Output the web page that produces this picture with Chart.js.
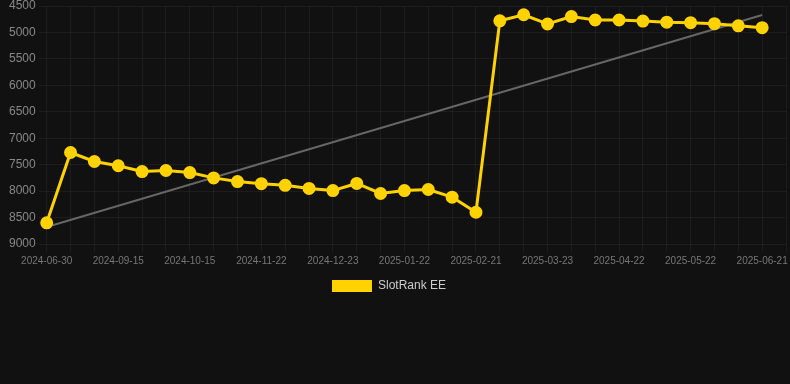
<!DOCTYPE html>
<html>
<head>
<meta charset="utf-8">
<script src="https://cdn.jsdelivr.net/npm/chart.js@4"></script>
<style>
  html, body { margin: 0; padding: 0; background: #111111; }
  #wrap { position: relative; width: 790px; height: 302px; }
</style>
</head>
<body>
<div id="wrap"><canvas id="c"></canvas></div>
<script>
const labels = [
  '2024-06-30','2024-08-26','2024-09-05','2024-09-15','2024-09-25','2024-10-05',
  '2024-10-15','2024-10-28','2024-11-10','2024-11-22','2024-12-02','2024-12-13',
  '2024-12-23','2025-01-02','2025-01-12','2025-01-22','2025-02-01','2025-02-11',
  '2025-02-21','2025-03-03','2025-03-13','2025-03-23','2025-04-02','2025-04-12',
  '2025-04-22','2025-05-02','2025-05-12','2025-05-22','2025-06-01','2025-06-11',
  '2025-06-21','2025-07-01'
];
const rankValues = [
  8600, 7270, 7440, 7520, 7630, 7610,
  7650, 7750, 7820, 7860, 7890, 7950,
  7990, 7855, 8045, 7990, 7970, 8115,
  8400, 4780, 4665, 4840, 4700, 4765,
  4765, 4785, 4805, 4815, 4835, 4875,
  4910, null
];
const yMin = 4500, yMax = 9000, yStep = 500;
const seriesName = 'SlotRank EE';

// linear trend (least squares) over the available points
function trend(vals) {
  const pts = vals.map((v, i) => [i, v]).filter(p => p[1] !== null);
  const n = pts.length;
  const mx = pts.reduce((s, p) => s + p[0], 0) / n;
  const my = pts.reduce((s, p) => s + p[1], 0) / n;
  let num = 0, den = 0;
  pts.forEach(p => { num += (p[0] - mx) * (p[1] - my); den += (p[0] - mx) ** 2; });
  const b = num / den, a = my - b * mx;
  const first = pts[0][0], last = pts[n - 1][0];
  return vals.map((v, i) => (i === first || i === last) ? a + b * i : null);
}
const trendValues = trend(rankValues);

Chart.defaults.font.family = '"Liberation Sans", Arial, sans-serif';

const legendShift = {
  id: 'legendShift',
  afterLayout(chart) {
    if (chart.legend) { chart.legend.left -= 7; chart.legend.right -= 7; }
  }
};

new Chart(document.getElementById('c'), {
  type: 'line',
  data: {
    labels: labels,
    datasets: [
      {
        label: seriesName,
        data: rankValues,
        borderColor: '#FFD200',
        backgroundColor: '#FFD200',
        borderWidth: 3,
        pointRadius: 5,
        pointHoverRadius: 5,
        pointBackgroundColor: '#FFD200',
        pointBorderColor: '#FFD200',
        tension: 0,
        order: 1
      },
      {
        label: 'trend',
        data: trendValues,
        spanGaps: true,
        borderColor: '#666666',
        borderWidth: 2,
        pointRadius: 0,
        pointHoverRadius: 0,
        fill: false,
        order: 2
      }
    ]
  },
  plugins: [legendShift],
  options: {
    responsive: true,
    maintainAspectRatio: false,
    animation: false,
    layout: { autoPadding: false, padding: { top: 0, right: 4, left: 6, bottom: 0 } },
    plugins: {
      legend: {
        position: 'bottom',
        labels: {
          color: '#cccccc',
          font: { size: 12 },
          boxWidth: 40,
          boxHeight: 12,
          padding: 10,
          generateLabels: function (chart) {
            const items = Chart.defaults.plugins.legend.labels.generateLabels(chart);
            items.forEach(it => { it.lineWidth = 0; });
            return items.filter(it => it.datasetIndex === 0);
          }
        }
      },
      tooltip: { enabled: false }
    },
    scales: {
      x: {
        offset: false,
        grid: { color: 'rgba(255,255,255,0.05)', tickLength: 8 },
        border: { display: false },
        ticks: {
          color: '#777777',
          font: { size: 10 },
          autoSkip: false,
          maxRotation: 0,
          minRotation: 0,
          callback: function (val, idx) { return idx % 3 === 0 ? labels[idx] : ''; }
        }
      },
      y: {
        reverse: true,
        min: yMin,
        max: yMax,
        afterFit: function (scale) { scale.paddingTop = 6; },
        grid: { color: 'rgba(255,255,255,0.05)', tickLength: 8 },
        border: { display: false },
        ticks: {
          color: '#888888',
          font: { size: 12 },
          stepSize: yStep,
          callback: function (v) { return String(v); }
        }
      }
    }
  }
});
</script>
</body>
</html>
